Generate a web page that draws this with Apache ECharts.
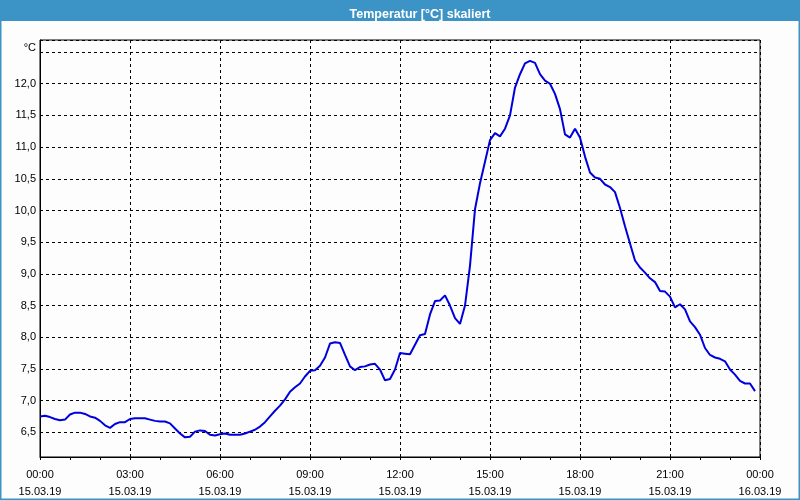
<!DOCTYPE html>
<html>
<head>
<meta charset="utf-8">
<script src="https://cdn.jsdelivr.net/npm/echarts@6/dist/echarts.min.js"></script>
<style>html,body{margin:0;padding:0;background:#fcfdfc;}#c{width:800px;height:500px;}</style>
</head>
<body>
<div id="c"></div>
<script>
var TITLE = 'Temperatur [°C] skaliert';
var START_DAY = '15.03.19';
var NEXT_DAY = '16.03.19';
var STEP_MIN = 10;
var temperature = [
  6.75, 6.76, 6.74, 6.71, 6.69, 6.70, 6.78, 6.81, 6.81, 6.79, 6.75, 6.73,
  6.68, 6.61, 6.57, 6.63, 6.66, 6.66, 6.71, 6.72, 6.72, 6.72, 6.70, 6.68,
  6.67, 6.67, 6.64, 6.56, 6.48, 6.42, 6.43, 6.51, 6.53, 6.52, 6.46, 6.45,
  6.47, 6.48, 6.46, 6.46, 6.46, 6.48, 6.51, 6.54, 6.59, 6.66, 6.75, 6.84,
  6.92, 7.02, 7.14, 7.21, 7.27, 7.38, 7.47, 7.48, 7.55, 7.68, 7.90, 7.92,
  7.91, 7.72, 7.54, 7.48, 7.53, 7.54, 7.57, 7.58, 7.49, 7.32, 7.34, 7.49,
  7.75, 7.74, 7.73, 7.88, 8.03, 8.05, 8.36, 8.57, 8.58, 8.66, 8.50, 8.30,
  8.21, 8.50, 9.13, 10.02, 10.43, 10.77, 11.11, 11.22, 11.17, 11.29, 11.50, 11.94,
  12.15, 12.32, 12.36, 12.33, 12.15, 12.05, 12.00, 11.84, 11.60, 11.20, 11.15, 11.29,
  11.15, 10.85, 10.60, 10.52, 10.50, 10.41, 10.37, 10.29, 10.04, 9.75, 9.48, 9.21,
  9.10, 9.02, 8.93, 8.87, 8.73, 8.72, 8.64, 8.47, 8.52, 8.44, 8.25, 8.16,
  8.04, 7.83, 7.72, 7.68, 7.66, 7.62, 7.49, 7.41, 7.31, 7.27, 7.27, 7.15
];
var Y_MIN = 6.11, Y_MAX = 12.69, Y_STEP = 0.5;
var X_MIN = 0, X_MAX = 24, X_STEP = 3;

var seriesData = temperature.map(function (v, i) { return [i * STEP_MIN / 60, v]; });
function pad(n) { return (n < 10 ? '0' : '') + n; }

var FONT = 'Liberation Sans';
var chart = echarts.init(document.getElementById('c'), null, {renderer: 'canvas'});
chart.setOption({
  backgroundColor: '#fcfdfc',
  animation: false,
  title: {
    text: TITLE, left: 415, top: 3, textAlign: 'center',
    textStyle: {color: '#ffffff', fontFamily: FONT, fontSize: 12.5, fontWeight: 'bold'}
  },
  graphic: [
    {type: 'rect', shape: {x: 0, y: 0, width: 800, height: 21}, style: {fill: '#3c93c5'}, z: -1},
    {type: 'rect', shape: {x: 0.75, y: 0.75, width: 798.5, height: 498.5}, style: {fill: 'none', stroke: '#3c93c5', lineWidth: 1.5}, z: 100}
  ],
  grid: {left: 40, right: 40, top: 40, bottom: 40, show: true, borderColor: '#000', borderWidth: 1, backgroundColor: 'transparent'},
  xAxis: {
    type: 'value', min: X_MIN, max: X_MAX, interval: X_STEP,
    axisLine: {show: true, lineStyle: {color: '#000', width: 1}},
    axisTick: {show: true, length: 3, lineStyle: {color: '#000'}},
    minorTick: {show: true, splitNumber: 3, length: 3, lineStyle: {color: '#000'}},
    splitLine: {show: true, lineStyle: {color: '#000', type: [3, 3], width: 1}},
    axisLabel: {
      color: '#000', fontFamily: FONT, fontSize: 11, lineHeight: 17, margin: 9,
      formatter: function (v) {
        var h = Math.round(v);
        return pad(h % 24) + ':00\n' + (h >= 24 ? NEXT_DAY : START_DAY);
      }
    }
  },
  yAxis: {
    type: 'value', min: Y_MIN, max: Y_MAX, splitNumber: 13, minInterval: Y_STEP, maxInterval: Y_STEP,
    name: '°C', nameLocation: 'end', nameGap: -2,
    nameTextStyle: {color: '#000', fontFamily: FONT, fontSize: 11, align: 'right', verticalAlign: 'top', padding: [0, 4, 0, 0]},
    axisLine: {show: true, lineStyle: {color: '#000', width: 1}},
    axisTick: {show: false},
    splitLine: {show: true, lineStyle: {color: '#000', type: [3, 3], width: 1}},
    axisLabel: {
      color: '#000', fontFamily: FONT, fontSize: 11, margin: 4,
      showMinLabel: false, showMaxLabel: false,
      formatter: function (v) {
        if (Math.abs(v - 12.5) < 1e-6) return '';
        if (Math.abs(v / Y_STEP - Math.round(v / Y_STEP)) > 1e-6) return '';
        return v.toFixed(1).replace('.', ',');
      }
    }
  },
  series: [{
    type: 'line', data: seriesData, showSymbol: false, smooth: false,
    lineStyle: {color: '#0000dd', width: 2}, itemStyle: {color: '#0000dd'}
  }]
});
</script>
</body>
</html>
